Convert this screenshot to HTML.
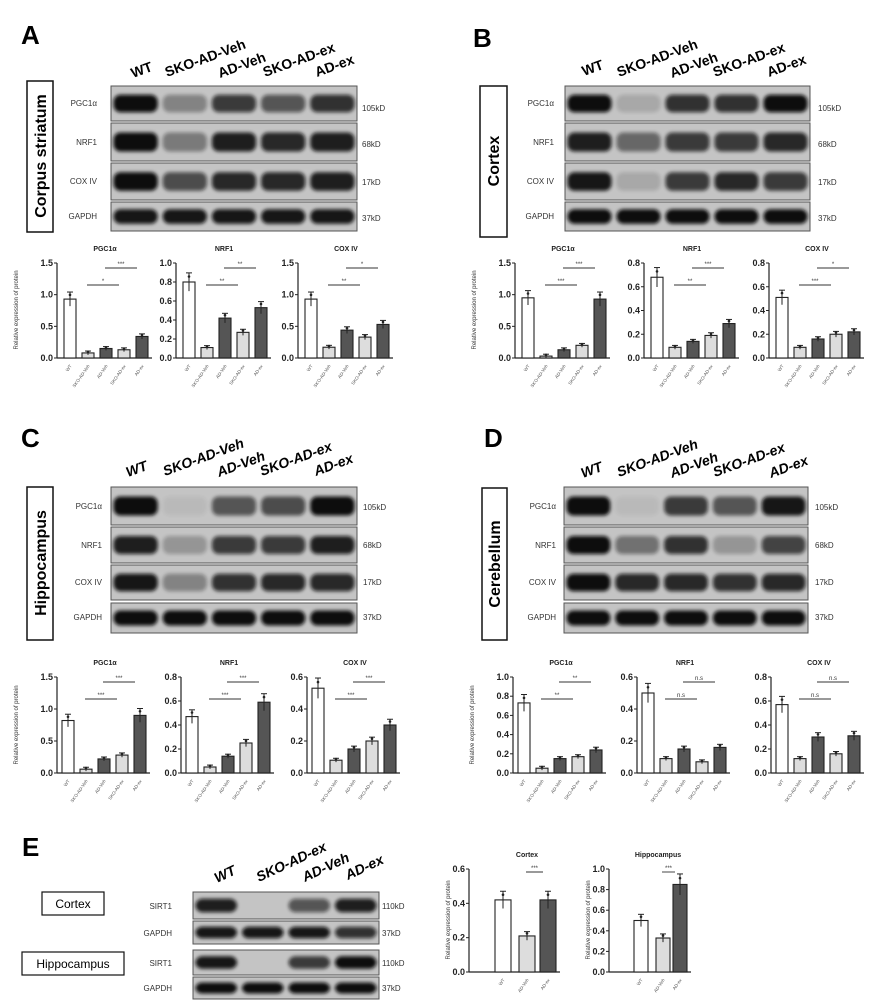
<!DOCTYPE html>
<html><head><meta charset="utf-8"><style>
html,body{margin:0;padding:0;background:#fff;width:894px;height:1004px;overflow:hidden}
svg{display:block;font-family:"Liberation Sans",Arial,sans-serif}
.L{font-weight:bold;font-size:26px}
.ln{font-weight:bold;font-size:14px}
.lni{font-weight:bold;font-style:italic;font-size:14px}
.bl{font-size:8px;fill:#333}
.ti{font-size:7px;font-weight:bold;fill:#222}
.rg{font-weight:bold;font-size:16px}
</style></head><body>
<svg id="s" width="894" height="1004" viewBox="0 0 894 1004" xmlns="http://www.w3.org/2000/svg">
<defs><filter id="b" x="-20%" y="-50%" width="140%" height="200%"><feGaussianBlur stdDeviation="1.8"/></filter></defs>
<g id="g"></g>
<text class="L" x="21" y="44">A</text>
<text class="L" x="473" y="47">B</text>
<text class="L" x="21" y="447">C</text>
<text class="L" x="484" y="447">D</text>
<text class="L" x="22" y="856">E</text>
<g class="ln">
<text transform="translate(133,78) rotate(-20)">WT</text>
<text transform="translate(167,77) rotate(-20)">SKO-AD-Veh</text>
<text transform="translate(220,78) rotate(-20)">AD-Veh</text>
<text transform="translate(265,77) rotate(-20)">SKO-AD-ex</text>
<text transform="translate(317,77) rotate(-20)">AD-ex</text>
<text transform="translate(584,76) rotate(-20)">WT</text>
<text transform="translate(619,77) rotate(-20)">SKO-AD-Veh</text>
<text transform="translate(672,78) rotate(-20)">AD-Veh</text>
<text transform="translate(715,77) rotate(-20)">SKO-AD-ex</text>
<text transform="translate(769,77) rotate(-20)">AD-ex</text>
</g>
<g class="lni">
<text transform="translate(128,477) rotate(-20)">WT</text>
<text transform="translate(165,476) rotate(-20)">SKO-AD-Veh</text>
<text transform="translate(219,477) rotate(-20)">AD-Veh</text>
<text transform="translate(262,476) rotate(-20)">SKO-AD-ex</text>
<text transform="translate(316,476) rotate(-20)">AD-ex</text>
<text transform="translate(583,478) rotate(-20)">WT</text>
<text transform="translate(619,477) rotate(-20)">SKO-AD-Veh</text>
<text transform="translate(672,478) rotate(-20)">AD-Veh</text>
<text transform="translate(715,477) rotate(-20)">SKO-AD-ex</text>
<text transform="translate(771,478) rotate(-20)">AD-ex</text>
<text transform="translate(217,883) rotate(-25)">WT</text>
<text transform="translate(259,882) rotate(-25)">SKO-AD-ex</text>
<text transform="translate(305,882) rotate(-25)">AD-Veh</text>
<text transform="translate(348,880) rotate(-25)">AD-ex</text>
</g>
<rect x="27" y="81" width="26" height="151" fill="#fff" stroke="#111" stroke-width="1.5"/>
<text class="rg" transform="translate(46,156) rotate(-90)" text-anchor="middle">Corpus striatum</text>
<rect x="480" y="86" width="27" height="151" fill="#fff" stroke="#111" stroke-width="1.5"/>
<text class="rg" transform="translate(499,161) rotate(-90)" text-anchor="middle">Cortex</text>
<rect x="27" y="487" width="26" height="153" fill="#fff" stroke="#111" stroke-width="1.5"/>
<text class="rg" transform="translate(46,563) rotate(-90)" text-anchor="middle">Hippocampus</text>
<rect x="482" y="488" width="25" height="152" fill="#fff" stroke="#111" stroke-width="1.5"/>
<text class="rg" transform="translate(500,564) rotate(-90)" text-anchor="middle">Cerebellum</text>
<rect x="42" y="892" width="62" height="23" fill="#fff" stroke="#111" stroke-width="1.2"/>
<text x="73" y="908" text-anchor="middle" font-size="12">Cortex</text>
<rect x="22" y="952" width="102" height="23" fill="#fff" stroke="#111" stroke-width="1.2"/>
<text x="73" y="968" text-anchor="middle" font-size="12">Hippocampus</text>
<g class="bl">
<g text-anchor="end">
<text x="97" y="106">PGC1α</text><text x="97" y="145">NRF1</text><text x="97" y="184">COX IV</text><text x="97" y="219">GAPDH</text>
<text x="554" y="106">PGC1α</text><text x="554" y="145">NRF1</text><text x="554" y="184">COX IV</text><text x="554" y="219">GAPDH</text>
<text x="102" y="509">PGC1α</text><text x="102" y="548">NRF1</text><text x="102" y="585">COX IV</text><text x="102" y="620">GAPDH</text>
<text x="556" y="509">PGC1α</text><text x="556" y="548">NRF1</text><text x="556" y="585">COX IV</text><text x="556" y="620">GAPDH</text>
<text x="172" y="909">SIRT1</text><text x="172" y="936">GAPDH</text><text x="172" y="966">SIRT1</text><text x="172" y="991">GAPDH</text>
</g>
<text x="362" y="111">105kD</text><text x="362" y="147">68kD</text><text x="362" y="185">17kD</text><text x="362" y="221">37kD</text>
<text x="818" y="111">105kD</text><text x="818" y="147">68kD</text><text x="818" y="185">17kD</text><text x="818" y="221">37kD</text>
<text x="363" y="510">105kD</text><text x="363" y="548">68kD</text><text x="363" y="585">17kD</text><text x="363" y="620">37kD</text>
<text x="815" y="510">105kD</text><text x="815" y="548">68kD</text><text x="815" y="585">17kD</text><text x="815" y="620">37kD</text>
<text x="382" y="909">110kD</text><text x="382" y="936">37kD</text><text x="382" y="966">110kD</text><text x="382" y="991">37kD</text>
</g>
<g class="ti" text-anchor="middle">
<text x="105" y="251">PGC1α</text><text x="224" y="251">NRF1</text><text x="346" y="251">COX IV</text>
<text x="563" y="251">PGC1α</text><text x="692" y="251">NRF1</text><text x="817" y="251">COX IV</text>
<text x="105" y="665">PGC1α</text><text x="229" y="665">NRF1</text><text x="355" y="665">COX IV</text>
<text x="561" y="665">PGC1α</text><text x="685" y="665">NRF1</text><text x="819" y="665">COX IV</text>
<text x="527" y="857">Cortex</text><text x="658" y="857">Hippocampus</text>
</g>
<g font-size="6" fill="#333" text-anchor="middle">
<text transform="translate(18,310) rotate(-90)">Relative expression of protein</text>
<text transform="translate(476,310) rotate(-90)">Relative expression of protein</text>
<text transform="translate(18,725) rotate(-90)">Relative expression of protein</text>
<text transform="translate(474,725) rotate(-90)">Relative expression of protein</text>
<text transform="translate(450,920) rotate(-90)">Relative expression of protein</text>
<text transform="translate(590,920) rotate(-90)">Relative expression of protein</text>
</g>
</svg>
<script>
var G=document.getElementById('g'),NS='http://www.w3.org/2000/svg';
function el(t,a,tx){var e=document.createElementNS(NS,t);for(var k in a)e.setAttribute(k,a[k]);if(tx!=null)e.textContent=tx;G.appendChild(e);return e;}
function blot(x1,x2,rows,ints){
 rows.forEach(function(r,ri){
  var y1=r[0],y2=r[1],h=y2-y1,n=ints[ri].length,w=(x2-x1)/n;
  el('rect',{x:x1,y:y1,width:x2-x1,height:h,fill:'#c4c4c4',stroke:'#555','stroke-width':1});
  ints[ri].forEach(function(v,i){ if(v<=0)return;
   el('rect',{x:x1+w*i+2.5,y:y1+h*0.25,width:w-5,height:h*0.5,rx:7,fill:'#0a0a0a',opacity:v,filter:'url(#b)'});
  });
 });
}
var R1=[[86,121],[123,161],[163,200],[202,231]],R2=[[487,525],[527,563],[565,600],[603,633]];
blot(111,357,R1,[[1,.35,.75,.6,.8],[1,.4,.9,.85,.9],[1,.65,.85,.85,.9],[.95,.95,.95,.95,.95]]);
blot(565,810,R1,[[1,.15,.8,.8,1],[.9,.5,.75,.75,.85],[.95,.15,.75,.85,.75],[1,1,1,1,1]]);
blot(111,357,R2,[[1,.05,.6,.65,1],[.9,.25,.75,.75,.9],[.95,.35,.8,.85,.85],[1,1,1,1,1]]);
blot(564,808,R2,[[1,.05,.75,.6,.95],[1,.45,.8,.25,.7],[1,.85,.85,.8,.85],[1,1,1,1,1]]);
blot(193,379,[[892,919],[921,944]],[[.9,0,.6,.9],[.95,.95,.95,.8]]);
blot(193,379,[[950,975],[977,999]],[[.95,0,.75,1],[1,1,1,1]]);
var C5=['#fff','#ddd','#555','#ddd','#555'],C3=['#fff','#ddd','#555'];
var CAT5=['WT','SKO-AD-Veh','AD-Veh','SKO-AD-ex','AD-ex'],CAT3=['WT','AD-Veh','AD-ex'];
function chart(x0,yT,yB,max,step,vals,sig,offs,bw){
 var n=vals.length,cols=n==5?C5:C3,cats=n==5?CAT5:CAT3;
 offs=offs||[13,31,49,67,85];bw=bw||12;
 var sc=function(v){return yB-(v/max)*(yB-yT);};
 el('line',{x1:x0,y1:yT,x2:x0,y2:yB,stroke:'#222','stroke-width':1.2});
 el('line',{x1:x0,y1:yB,x2:x0+offs[n-1]+bw/2+4,y2:yB,stroke:'#222','stroke-width':1.2});
 for(var t=0;t<=max+1e-6;t+=step){var y=sc(t);
  el('line',{x1:x0-3,y1:y,x2:x0,y2:y,stroke:'#222','stroke-width':1});
  el('text',{x:x0-4,y:y+3,'text-anchor':'end','font-size':9,'font-weight':'bold',fill:'#222'},t.toFixed(1));}
 vals.forEach(function(v,i){var cx=x0+offs[i],y=sc(v),e=Math.max(0.02*max,v*0.12);
  el('rect',{x:cx-bw/2,y:y,width:bw,height:yB-y,fill:cols[i],stroke:'#222','stroke-width':1.1});
  el('line',{x1:cx,y1:sc(v+e),x2:cx,y2:sc(Math.max(0,v-e)),stroke:'#222','stroke-width':1});
  el('line',{x1:cx-3,y1:sc(v+e),x2:cx+3,y2:sc(v+e),stroke:'#222','stroke-width':1});
  el('circle',{cx:cx,cy:sc(v+e*0.6),r:1.3,fill:'#222'});
  el('text',{transform:'translate('+(cx+2)+','+(yB+8)+') rotate(-55)','text-anchor':'end','font-size':4.5,fill:'#555'},cats[i]);
 });
 sig.forEach(function(s){
  var xa=x0+offs[s[0]]-1,xb=x0+offs[s[1]]-5,y=yT+s[2];
  el('line',{x1:xa,y1:y,x2:xb,y2:y,stroke:'#333','stroke-width':0.9});
  el('text',{x:(xa+xb)/2,y:y-2,'text-anchor':'middle','font-size':6,fill:'#333'},s[3]);
 });
}
function s2(a,b){return [[1,3,22,a],[2,4,5,b]];}
chart(57,263,358,1.5,.5,[.93,.08,.15,.13,.34],s2('*','***'));
chart(176,263,358,1.0,.2,[.80,.11,.42,.27,.53],s2('**','**'));
chart(298,263,358,1.5,.5,[.93,.17,.44,.33,.53],s2('**','*'));
chart(515,263,358,1.5,.5,[.95,.03,.13,.20,.93],s2('***','***'));
chart(644,263,358,0.8,.2,[.68,.09,.14,.19,.29],s2('**','***'));
chart(769,263,358,0.8,.2,[.51,.09,.16,.20,.22],s2('***','*'));
var o2=[11,29,47,65,83];
chart(57,677,773,1.5,.5,[.82,.06,.22,.28,.90],s2('***','***'),o2);
chart(181,677,773,0.8,.2,[.47,.05,.14,.25,.59],s2('***','***'),o2);
chart(307,677,773,0.6,.2,[.53,.08,.15,.20,.30],s2('***','***'),o2);
chart(513,677,773,1.0,.2,[.73,.05,.15,.17,.24],s2('**','**'),o2);
chart(637,677,773,0.6,.2,[.50,.09,.15,.07,.16],s2('n.s','n.s'),o2);
chart(771,677,773,0.8,.2,[.57,.12,.30,.16,.31],s2('n.s','n.s'),o2);
chart(469,869,972,0.6,.2,[.42,.21,.42],[[1,2,3,'***']],[34,58,79],16);
chart(609,869,972,1.0,.2,[.50,.33,.85],[[1,2,3,'***']],[32,54,71],14);
</script>
</body></html>
